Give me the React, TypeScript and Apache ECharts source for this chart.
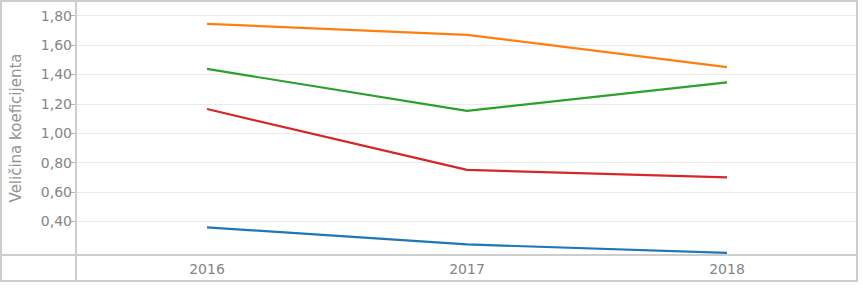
import React, { useEffect, useRef } from "react";
import * as echarts from "echarts";

const categories = ["2016", "2017", "2018"];
const seriesNames = ["Serija 1", "Serija 2", "Serija 3", "Serija 4"];
const orangeValues = [1.745, 1.67, 1.45];
const greenValues = [1.438, 1.152, 1.347];
const redValues = [1.165, 0.751, 0.7];
const blueValues = [0.36, 0.244, 0.186];
const yTickValues = [0.4, 0.6, 0.8, 1.0, 1.2, 1.4, 1.6, 1.8];
const yAxisTitle = "Veličina koeficijenta";

const colors = ["#ff7f0e", "#2ca02c", "#d62728", "#1f77b4"];

export default function App() {
  const ref = useRef<HTMLDivElement>(null);
  useEffect(() => {
    if (!ref.current) return;
    const chart = echarts.init(ref.current, undefined, { renderer: "svg" });
    const frame = "#cdcdcd";
    const data = [orangeValues, greenValues, redValues, blueValues];
    chart.setOption({
      animation: false,
      textStyle: { fontFamily: "DejaVu Sans" },
      grid: { left: 76, right: 6, top: 1, bottom: 39, containLabel: false },
      xAxis: {
        type: "category",
        data: categories,
        boundaryGap: true,
        axisLine: { show: false },
        axisTick: { show: false },
        axisLabel: { color: "#858585", fontSize: 14, margin: 7, fontFamily: "DejaVu Sans" },
        splitLine: { show: false },
      },
      yAxis: {
        type: "value",
        min: 0.172,
        max: 1.9,
        name: yAxisTitle,
        nameLocation: "middle",
        nameGap: 54,
        nameTextStyle: { color: "#939393", fontSize: 15, fontFamily: "DejaVu Sans" },
        axisLine: { show: false },
        axisTick: { show: true, length: 6, customValues: yTickValues, lineStyle: { color: "#b5b5b5" } },
        axisLabel: {
          color: "#858585",
          fontSize: 14,
          margin: 5,
          customValues: yTickValues,
          formatter: (v: number) => v.toFixed(2).replace(".", ","),
        },
        splitLine: { show: true, lineStyle: { color: "#ebebeb", width: 1 } },
      },
      series: data.map((d, i) => ({
        type: "line",
        name: seriesNames[i],
        data: d,
        symbol: "none",
        lineStyle: { color: colors[i], width: 2.2 },
        itemStyle: { color: colors[i] },
      })),
      graphic: [
        { type: "rect", shape: { x: 1, y: 1, width: 856, height: 280 }, style: { fill: "none", stroke: frame, lineWidth: 2 }, z: 10 },
        { type: "line", shape: { x1: 76, y1: 1, x2: 76, y2: 281 }, style: { stroke: frame, lineWidth: 2 }, z: 10 },
        { type: "line", shape: { x1: 1, y1: 255, x2: 857, y2: 255 }, style: { stroke: frame, lineWidth: 2 }, z: 10 },
      ],
    });
    return () => chart.dispose();
  }, []);
  return (
    <div
      ref={ref}
      style={{ position: "fixed", left: 0, top: 0, width: 863, height: 294, background: "#fff" }}
    />
  );
}
